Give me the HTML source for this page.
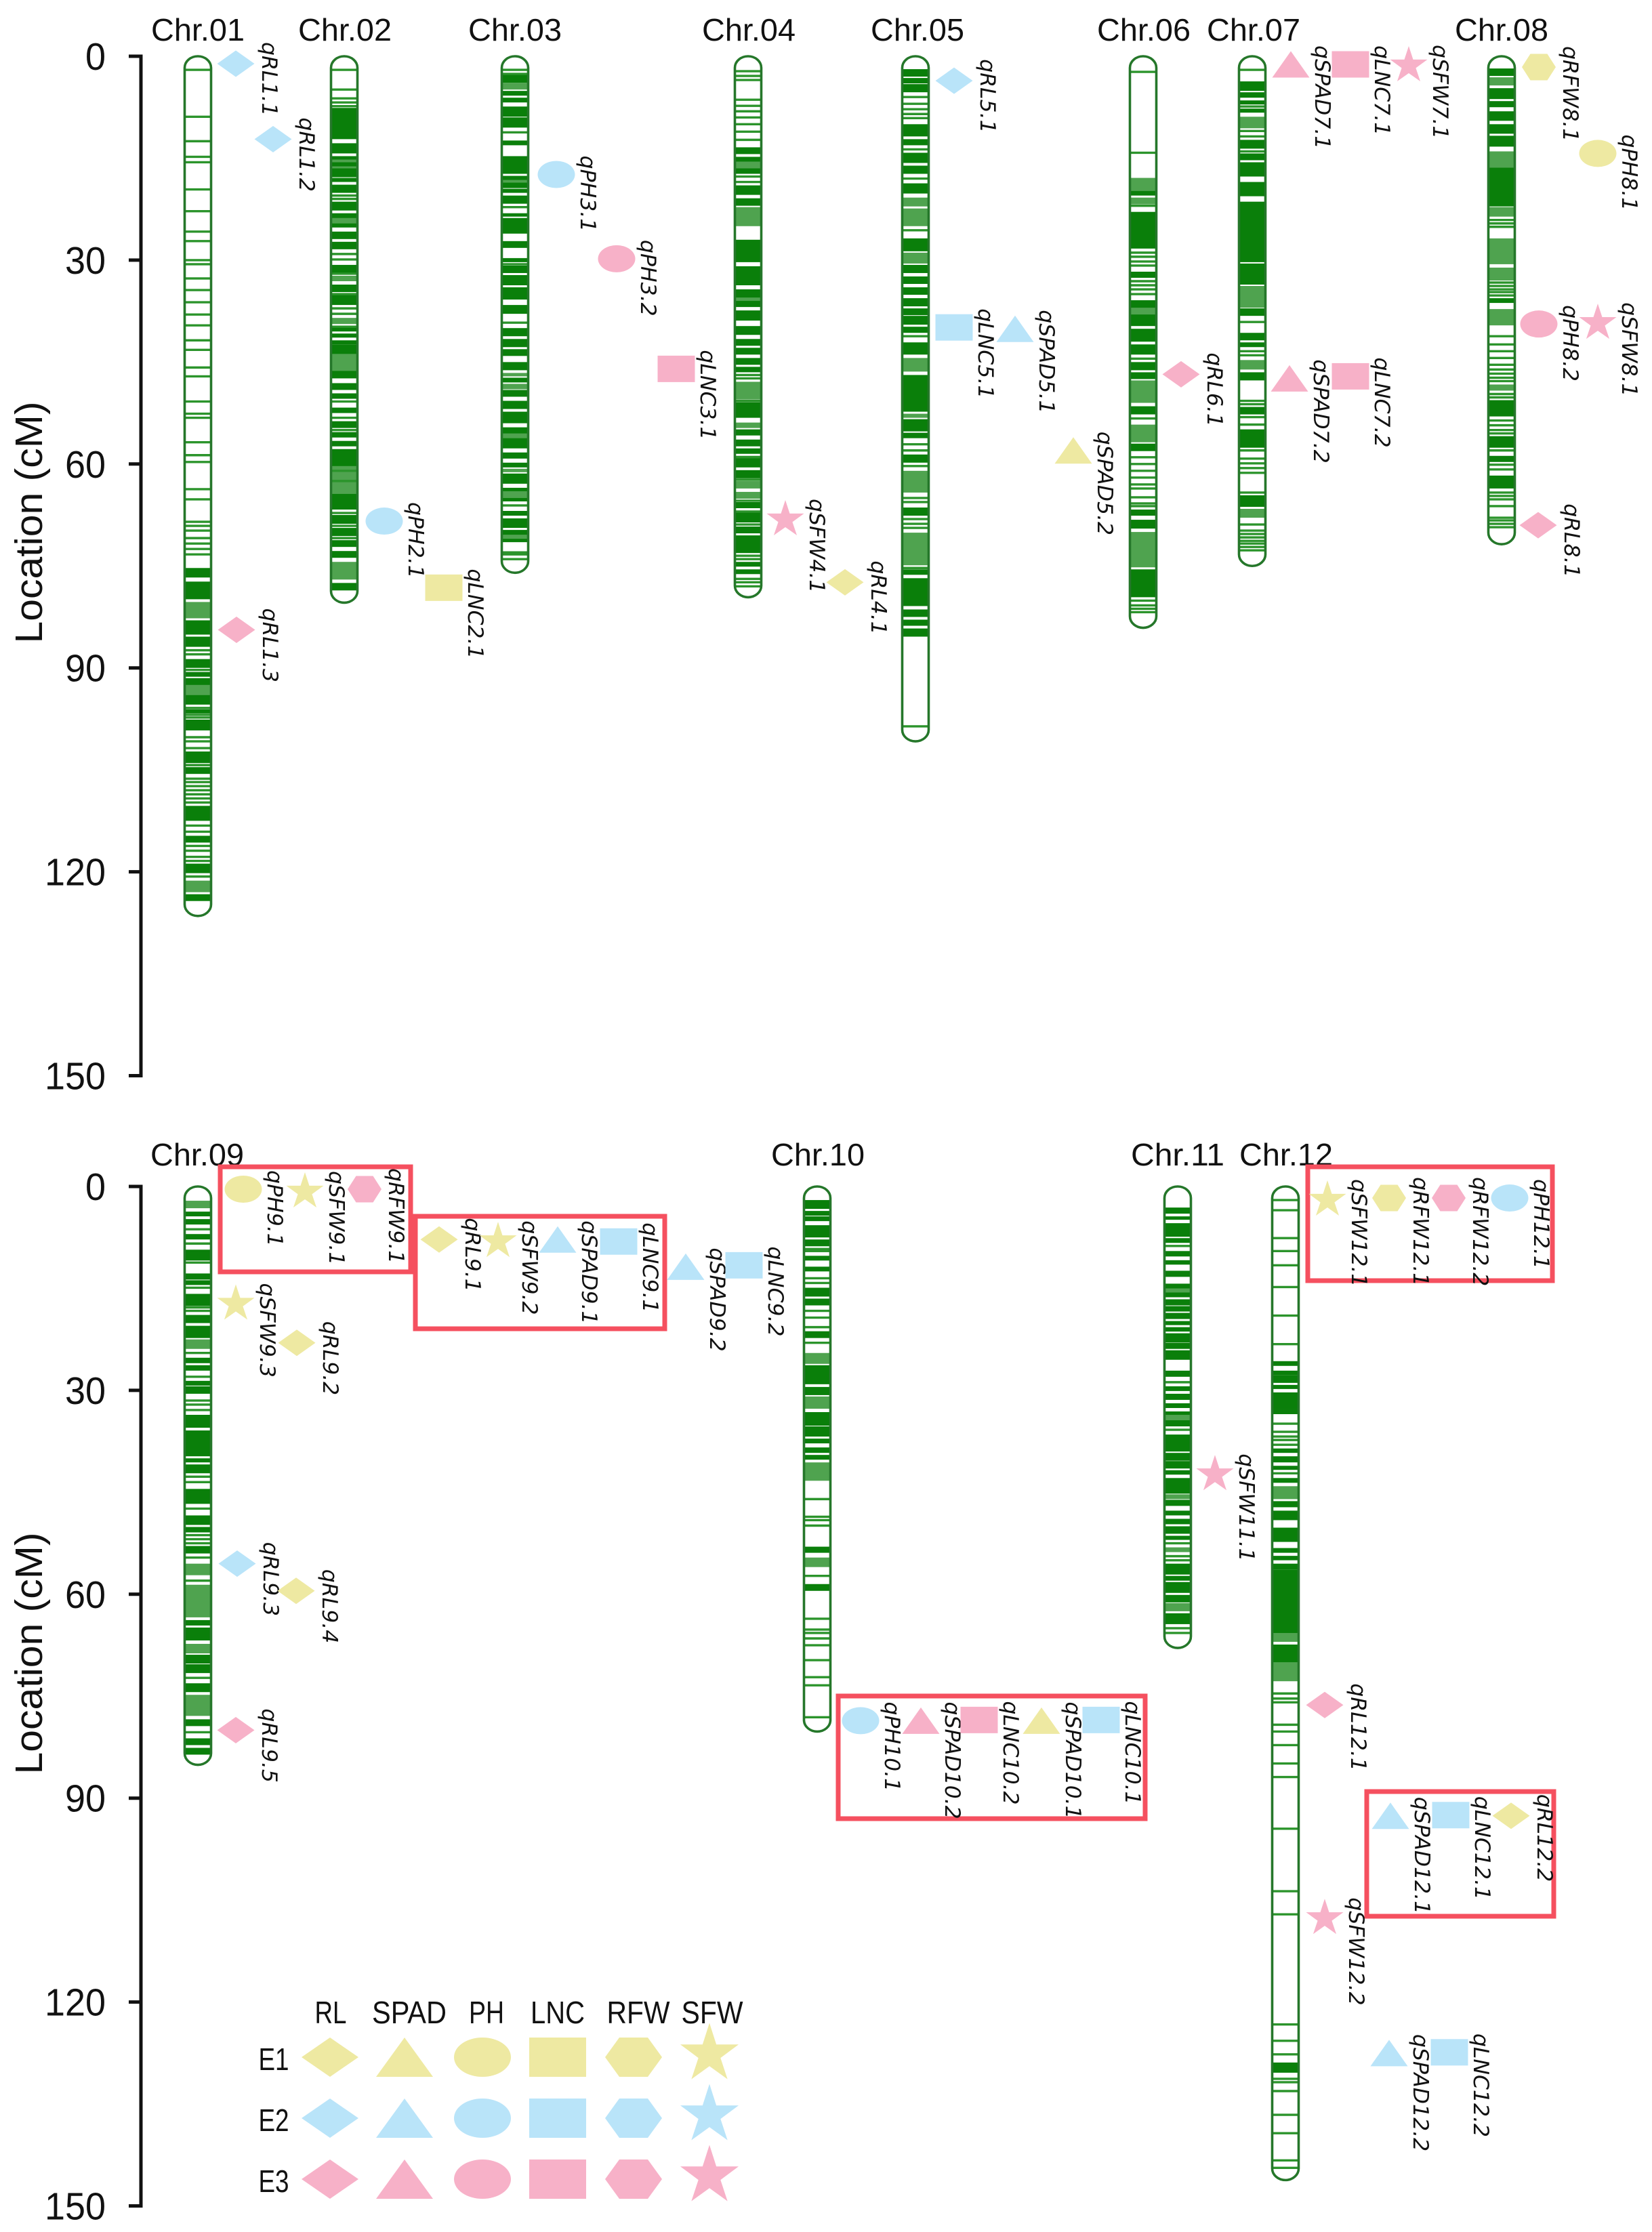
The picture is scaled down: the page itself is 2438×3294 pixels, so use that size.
<!DOCTYPE html>
<html lang="en">
<head>
<meta charset="utf-8">
<title>QTL positions on rice chromosomes</title>
<style>
html,body{margin:0;padding:0;background:#fff}
svg{display:block}
</style>
</head>
<body>
<svg id="chart" xmlns="http://www.w3.org/2000/svg" width="2438" height="3294" viewBox="0 0 2438 3294"></svg>
<script>
// ---------- chart data (cM) ----------
const tickValues = [0, 30, 60, 90, 120, 150];
const chrNames = ['Chr.01','Chr.02','Chr.03','Chr.04','Chr.05','Chr.06','Chr.07','Chr.08','Chr.09','Chr.10','Chr.11','Chr.12'];
const chrLengths = [126.5, 80.4, 76, 79.6, 100.8, 84.1, 75, 71.8, 85.1, 80.2, 67.9, 146.2];

const chr01Markers = [2,8.9,12.5,14.8,15.6,19.6,22.8,25.8,27.2,30,30.6,32.7,34.4,36.2,38,39.6,41.8,43.2,45.8,47.1,50.8,52.6,53.2,56.8,58.7,59.7,63.7,65.2,68.5,69.1,69.8,70.9,71.7,72.5,73.3,87.4,88,90.3,95.9,96.9,97.3,100.2,100.8,101.8,104.3,106.3,106.8,107.4,108,108.6,109.2,109.8,113.2,114.1,116.2,116.9,117.8,118.4,120.7];
const chr01Bands = [[75.4,76.6],[77.4,79.8],[83.1,85],[85.5,86.8],[88.8,89.9],[90.7,91.2],[91.6,95.3],[96.2,96.6],[97.7,99.1],[102.4,103.9],[104.7,105.5],[110.4,112.4],[114.8,115.6],[118.9,120.1],[123.4,124.2]];
const chr01Pale = [[80.3,82.7],[92.5,94],[121.3,123]];

const chr02Markers = [2,4.9,6.2,6.8,7.35,20.5,21,29.1,29.9,32,35,37.1,37.9,39.8,50.8,53.2,55,61,62.5,67.2,69.1,70.9];
const chr02Bands = [[7.7,12.1],[12.9,14.2],[14.8,17.7],[18,18.4],[19,20],[21.5,22.6],[23.2,25.1],[25.9,26.8],[27.4,28.3],[30.8,31.8],[33.7,34.6],[35.2,36.5],[40,40.4],[40.9,41.3],[41.9,42.3],[42.5,47.3],[48.2,49],[49.7,50.3],[51.8,52.4],[53.8,54.6],[55.4,56],[56.7,57.3],[57.9,60.3],[64.4,66.6],[67.6,68.7],[69.5,70.5],[71.3,72.1],[72.9,73.7],[77.6,78.5]];
const chr02Pale = [[15.2,15.6],[16.2,16.5],[23.8,24.6],[32.3,33.1],[38.5,39.4],[43.8,46.3],[60.3,64.4],[74.4,77]];

const chr03Markers = [2,2.6,11.2,22.2,30.6,39.2,66.1,73,73.3,74];
const chr03Bands = [[2.8,3.8],[5.2,5.7],[6.2,6.7],[7.5,8.8],[9.1,10.4],[12.5,13],[14.8,17.2],[17.7,19.3],[19.6,20],[20.6,21.6],[23.2,23.5],[23.9,26],[27.3,28.1],[29.8,30.2],[30.9,31.8],[32.3,33.6],[34.1,35.7],[36.7,37.8],[40.1,41.1],[41.7,42.7],[43.2,44],[45.1,46.1],[47.4,47.9],[49.2,50],[50.8,51.8],[52.4,53.9],[54.7,57.6],[58.4,59.1],[59.9,60.4],[61.5,62.8],[63.6,65.4],[67,67.5],[68.1,69.3],[69.8,71.4]];
const chr03Pale = [[3.9,4.9],[18.2,18.6],[46.6,47.1],[48.2,49],[55.5,56.2],[60.7,61.2],[64,65],[70.4,71]];

const chr04Markers = [2.2,2.9,3.5,6.4,7.3,8.1,9,10,11.1,12.3,17.7,18.5,76.9,77.4,73.5,74,46.9,47.4,50.7,59,62.3,65.4,67,68.9,78];
const chr04Bands = [[13.5,14.3],[14.9,17.2],[19.1,20.3],[21,21.9],[27.1,30.2],[31,33.6],[34.4,36.8],[37.5,38.8],[39.8,40.9],[41.7,42.5],[43,43.8],[44.5,45.3],[45.8,46.4],[51,53.1],[55,55.7],[56.5,57.3],[57.8,58.4],[58.9,60.4],[61,62],[65.7,66.4],[67.2,68.5],[69.3,70.1],[70.6,73],[74.5,75],[75.6,76.1]];
const chr04Pale = [[15.5,16.5],[22.2,25],[35.5,36],[47.9,50.5],[53.9,54.7],[62.5,63.6],[64.1,65.1]];

const chr05Markers = [6,7,7.8,8.5,9.1,13.7,18,25.6,41.2,57.1,58,60.3,65,65.6,68.1,68.8,69.4,75.3,98.6];
const chr05Bands = [[2,2.9],[3.3,3.9],[4.2,5.2],[10.1,11.7],[12.3,13],[14.3,15.6],[16.2,17.2],[18.8,20.1],[26.9,28.6],[30.8,31.8],[32.5,33.4],[34.1,35],[35.7,36.7],[37.2,38],[38.3,39.4],[39.9,40.6],[42.2,43.8],[47,52.2],[53.5,55.1],[55.5,56.1],[58.7,59.7],[66.5,67.5],[75.6,76.2],[76.9,80.8],[81.5,82.4],[83,83.7],[84.3,85.3]];
const chr05Pale = [[20.8,22.1],[22.4,25],[28.9,30.5],[44.4,46.4],[52.6,53.2],[61,64.2],[70.1,74.9]];

const chr06Markers = [2.3,14.2,22,28.9,29.5,30.2,30.8,33.1,33.7,34.3,35,44.5,53.3,59,60,61,62,63,63.6,64.9,65.8,66.2,80.1,80.8,81.3,81.8];
const chr06Bands = [[19.9,20.4],[23,28.2],[31.8,32.5],[36,39.6],[40.2,41.9],[42.5,43.8],[45.1,46.1],[46.6,47.4],[51.6,52.6],[57.1,58],[66.8,67.5],[68.3,69.4],[75.6,79.5]];
const chr06Pale = [[17.9,19.8],[20.8,21.8],[37,38],[47.7,51],[54.2,56.8],[70,75.2]];

const chr07Markers = [2,7.4,11,11.8,14,39.1,43.4,44,50.7,51.2,53.1,54.2,58,59.2,59.9,60.6,61.3,64.2,68.9,69.8,70.3,70.8,71.3,71.7,72.2,72.7];
const chr07Bands = [[3.8,5],[5.4,6],[6.6,7],[7.8,8.2],[12.4,13.5],[14.4,15.2],[15.7,17.6],[18.6,20.5],[21.5,30.2],[30.6,33.5],[37.2,38.1],[40.8,41.7],[42.2,42.7],[46.6,47.6],[51.7,52.6],[55,57.5],[64.7,66.2]];
const chr07Pale = [[8.9,10.6],[33.8,37],[44.7,46.1],[66.6,67.9]];

const chr08Markers = [24.1,24.6,25.1,33.3,33.8,34.3,34.7,35.2,41.2,42.4,43.4,44.4,45.4,46.1,46.7,47.3,47.8,49.7,50.2,53.6,54.3,55,55.5,58,60.1,60.8,64.2,64.7,65.2,66.2,67.9,68.3,68.8,69.3];
const chr08Bands = [[1.9,2.8],[4.8,6.2],[6.7,7.4],[8.2,9.4],[10.1,11.3],[11.8,13.2],[16.4,22],[35.7,36.2],[50.7,52.9],[56,57.5],[58.9,59.6],[61.8,63.5]];
const chr08Pale = [[3.1,4.3],[14,16.4],[22.2,23.6],[26.8,30.6],[31.1,33],[37.2,39.6],[48.3,49.2]];

const chr09Markers = [6.3,8.4,11.2,14.9,17.8,18.3,24.5,28,31.5,32.1,32.9,42.7,43.5,47.4,51.3,51.9,52.5,54.6,58,72.3,80.3];
const chr09Bands = [[3.8,4.3],[4.9,5.5],[7.1,7.7],[9.4,10.8],[12.9,13.6],[13.9,14.4],[15.9,17.5],[19,20],[20.6,22.2],[25.3,25.9],[26.4,27],[28.7,29.2],[29.5,30.4],[33.7,35.4],[36,39.6],[40.1,40.5],[41,42.1],[44.6,46.6],[48.5,49.7],[50.2,50.8],[53,53.9],[63.9,64.5],[65,66.7],[69,70.1],[70.4,71.5],[73.2,74.3],[78.5,79.3],[81.3,82.1],[82.7,83.5]];
const chr09Pale = [[2.1,3.2],[22.5,23.9],[55.5,57.2],[58.6,63.4],[67.3,68.7],[74.8,77.9]];

const chr10Markers = [9.2,9.5,13.5,14.2,18.3,19.3,20.7,23,46,48.6,49.1,49.9,57.3,63.6,65.2,65.7,66.5,67.5,69.7,72.2,73.4,78.1];
const chr10Bands = [[2.1,3.2],[3.7,4.2],[4.5,5],[5.8,7.4],[7.9,8.7],[10.3,10.8],[11.9,12.4],[15,16.1],[16.6,17.4],[21.4,22.2],[26.4,29],[29.6,30.6],[33.3,35.1],[35.4,36.7],[37.2,37.7],[38.5,39.1],[39.6,40.1],[53.1,53.8],[58.6,59.4]];
const chr10Pale = [[24.5,26.1],[30.9,32.7],[40.6,43.3],[54.6,56]];

const chr11Markers = [8.75,28.8,35.8,52.5,65,65.7,54.4,55];
const chr11Bands = [[3.2,3.9],[4.5,4.8],[5.5,7.3],[7.7,8.2],[9.6,10.2],[10.95,11.4],[12.5,13.2],[14.4,16.2],[16.7,17.4],[17.7,18.3],[18.7,19.4],[19.9,20.3],[20.8,21.25],[21.7,22.85],[23.1,23.8],[24.2,25.4],[27.2,27.9],[29.5,30],[30.6,31.3],[32,32.5],[33.2,35.2],[36.6,38.9],[39.3,40.25],[40.5,41.4],[41.85,42.3],[43,45.1],[46.2,46.9],[47.8,48.3],[49,49.6],[50.1,51],[51.5,51.9],[55.6,57],[57.4,57.9],[58.3,59.7],[60.2,61.1],[62.9,64.3]];
const chr11Pale = [[15,15.6],[33.6,34.4],[45.3,46],[53.1,53.8],[61.3,62.5]];

const chr12Markers = [2,3.5,7.6,9.5,11.6,14.8,19,23.2,34.9,36.1,36.8,37.3,38,42.2,74.6,75.35,75.9,79.2,80.2,82.2,84.9,86.9,94.5,103.7,107.1,123.3,125.7,127.7,131.3,131.8,133.1,136.6,139.3,143.3,144.4];
const chr12Bands = [[25.8,26.3],[27.2,27.7],[27.9,28.8],[29.3,29.7],[30.4,32.7],[32.9,33.4],[38.65,39.1],[39.8,40.5],[41.2,41.6],[43,43.5],[46.4,47.1],[47.8,49],[50.3,52.2],[53.3,53.8],[54.45,54.9],[55.6,56.3],[56.5,65.7],[67.5,70],[129,130.3]];
const chr12Pale = [[44.1,46],[65.7,67],[70,72.8]];

const chrMarkers = [chr01Markers,chr02Markers,chr03Markers,chr04Markers,chr05Markers,chr06Markers,chr07Markers,chr08Markers,chr09Markers,chr10Markers,chr11Markers,chr12Markers];
const chrBands = [chr01Bands,chr02Bands,chr03Bands,chr04Bands,chr05Bands,chr06Bands,chr07Bands,chr08Bands,chr09Bands,chr10Bands,chr11Bands,chr12Bands];
const chrPale = [chr01Pale,chr02Pale,chr03Pale,chr04Pale,chr05Pale,chr06Pale,chr07Pale,chr08Pale,chr09Pale,chr10Pale,chr11Pale,chr12Pale];

const qtlNames = ['qRL1.1','qRL1.2','qRL1.3','qPH2.1','qLNC2.1','qPH3.1','qPH3.2','qLNC3.1','qSFW4.1','qRL4.1','qRL5.1','qLNC5.1','qSPAD5.1','qSPAD5.2','qRL6.1','qSPAD7.1','qLNC7.1','qSFW7.1','qSPAD7.2','qLNC7.2','qRFW8.1','qPH8.1','qPH8.2','qSFW8.1','qRL8.1','qPH9.1','qSFW9.1','qRFW9.1','qRL9.1','qSFW9.2','qSPAD9.1','qLNC9.1','qSPAD9.2','qLNC9.2','qSFW9.3','qRL9.2','qRL9.3','qRL9.4','qRL9.5','qPH10.1','qSPAD10.2','qLNC10.2','qSPAD10.1','qLNC10.1','qSFW11.1','qSFW12.1','qRFW12.1','qRFW12.2','qPH12.1','qRL12.1','qSPAD12.1','qLNC12.1','qRL12.2','qSFW12.2','qSPAD12.2','qLNC12.2'];
const qtlPositions = [1.1,12.2,84.4,68.4,78.2,17.4,29.8,46,67.9,77.4,3.6,39.9,40.1,58,46.8,1.2,1.2,1.1,47.4,47.1,1.6,14.3,39.4,39,69,0.4,0.5,0.4,7.8,7.8,7.8,8.1,11.8,11.6,17,23,55.5,59.5,80,78.6,78.6,78.5,78.6,78.5,42.1,1.7,1.7,1.7,1.7,76.3,92.6,92.5,92.6,107.4,127.5,127.4];
const qtlEnvironments = ['E2','E2','E3','E2','E1','E2','E3','E3','E3','E1','E2','E2','E2','E1','E3','E3','E3','E3','E3','E3','E1','E1','E3','E3','E3','E1','E1','E3','E1','E1','E2','E2','E2','E2','E1','E1','E2','E1','E3','E2','E3','E3','E1','E2','E3','E1','E1','E3','E2','E3','E2','E2','E1','E3','E2','E2'];

const traitNames = ['RL','SPAD','PH','LNC','RFW','SFW'];
const envNames = ['E1','E2','E3'];

// ---------- layout (not data) ----------
const chrCenters = [292,508,760,1104,1351,1687,1848,2216,292,1206,1738,1897];
const chrLabelCenters = [292,509,760,1105,1354,1688,1850,2216,291,1207,1738,1898];
const qtlColumns = [348,403,349,567,655,821,910,998,1159,1247,1408,1408,1498,1584,1743,1905,1993,2079,1903,1993,2271,2358,2271,2358,2270,359,450,538,648,735,823,913,1012,1098,348,438,350,437,348,1270,1359,1445,1537,1625,1793,1959,2050,2138,2228,1955,2052,2141,2230,1955,2050,2139];
const envColors = {E1:'#eee9a2',E2:'#b9e4f9',E3:'#f7b1c8'};
const traitShapes = {RL:'diamond',SPAD:'triangle',PH:'ellipse',LNC:'square',RFW:'hexagon',SFW:'star'};
const legendCenters = [487,597,712,823,935,1047];
const legendHeaderCenters = [488,604,718,823,942,1051];
const legendHeaderWidths = [47,110,52,80,93,91];
const legendRowCenters = [3036,3126,3216];
const highlightBoxes = [[325,1722,606,1877],[613,1795,981,1961],[1237,2503,1690,2684],[1930,1722,2291,1890],[2017,2644,2293,2828]];

const CHR_W = 39, AXIS_X = 208, PX_PER_CM = 10.03;
const TOP_ZERO = 83, BOTTOM_ZERO = 1751;
const yTop = v => TOP_ZERO + v * PX_PER_CM;
const yBottom = v => BOTTOM_ZERO + v * PX_PER_CM;
const yFor = i => (i < 8 ? yTop : yBottom);

const svg = document.getElementById('chart');
const NS = 'http://www.w3.org/2000/svg';
function make(tag, attrs, parent) {
  const el = document.createElementNS(NS, tag);
  for (const k in attrs) el.setAttribute(k, attrs[k]);
  (parent || svg).appendChild(el);
  return el;
}

function drawShape(shape, cx, cy, w, h, fill, parent) {
  let el;
  if (shape === 'ellipse') {
    el = make('ellipse', {cx: cx, cy: cy, rx: w / 2, ry: h / 2, fill: fill}, parent);
  } else if (shape === 'square') {
    el = make('rect', {x: cx - w / 2, y: cy - h / 2, width: w, height: h, fill: fill}, parent);
  } else {
    let pts = [];
    if (shape === 'diamond') pts = [[0,-.5],[.5,0],[0,.5],[-.5,0]];
    if (shape === 'triangle') pts = [[0,-.5],[.5,.5],[-.5,.5]];
    if (shape === 'hexagon') pts = [[-.25,-.5],[.25,-.5],[.5,0],[.25,.5],[-.25,.5],[-.5,0]];
    if (shape === 'star') pts = [[0,-.5],[.118,-.118],[.5,-.118],[.19,.122],[.31,.5],[0,.268],[-.31,.5],[-.19,.122],[-.5,-.118],[-.118,-.118]];
    el = make('polygon', {points: pts.map(p => (cx + p[0] * w) + ',' + (cy + p[1] * h)).join(' '), fill: fill}, parent);
  }
  return el;
}

function drawAxis(scale, panel, titleY) {
  const g = make('g', {});
  
  
  const line = make('line', {x1: AXIS_X, x2: AXIS_X, y1: scale(0) - 2.5, y2: scale(150) + 2.5, stroke: '#111', 'stroke-width': 5}, g);
  
  
  tickValues.forEach(v => {
    const t = make('line', {x1: 190, x2: AXIS_X, y1: scale(v), y2: scale(v), stroke: '#111', 'stroke-width': 5}, g);
    
    
    const lab = make('text', {x: 156, y: scale(v) + 20, 'text-anchor': 'end', 'font-family': '"Liberation Sans", sans-serif', 'font-size': 57, fill: '#111', textLength: String(v).length * 30, lengthAdjust: 'spacingAndGlyphs'}, g);
    lab.textContent = String(v);
    
    
  });
  const title = make('text', {transform: 'translate(62,' + titleY + ') rotate(-90)', 'text-anchor': 'middle', 'font-family': '"Liberation Sans", sans-serif', 'font-size': 57, fill: '#111', textLength: 357, lengthAdjust: 'spacingAndGlyphs'}, g);
  title.textContent = 'Location (cM)';
  
  
}

function drawChromosome(i) {
  const scale = yFor(i), cx = chrCenters[i], left = cx - CHR_W / 2;
  const g = make('g', {});
  
  
  const top = scale(0), bottom = scale(chrLengths[i]);
  const bg = make('rect', {x: left, y: top, width: CHR_W, height: bottom - top, rx: CHR_W / 2, ry: 17, fill: '#fff'}, g);
  
  
  chrBands[i].forEach(b => {
    const r = make('rect', {x: left, y: scale(b[0]) - 1, width: CHR_W, height: scale(b[1]) - scale(b[0]) + 2, fill: '#0a7f0a'}, g);
    
    
  });
  chrPale[i].forEach(b => {
    const r = make('rect', {x: left, y: scale(b[0]), width: CHR_W, height: scale(b[1]) - scale(b[0]), fill: '#4fa34f'}, g);
    
    
  });
  chrMarkers[i].forEach(v => {
    const l = make('line', {x1: left, x2: left + CHR_W, y1: scale(v), y2: scale(v), stroke: '#2b942b', 'stroke-width': 3.4}, g);
    
    
  });
  const outline = make('rect', {x: left, y: top, width: CHR_W, height: bottom - top, rx: CHR_W / 2, ry: 17, fill: 'none', stroke: '#25772a', 'stroke-width': 3.6}, g);
  
  
  const lab = make('text', {x: chrLabelCenters[i], y: i < 8 ? 60 : 1720, 'text-anchor': 'middle', 'font-family': '"Liberation Sans", sans-serif', 'font-size': 46, fill: '#111', textLength: 138, lengthAdjust: 'spacingAndGlyphs'}, g);
  lab.textContent = chrNames[i];
  
  
}

function drawQtl(k) {
  const name = qtlNames[k];
  const m = name.match(/^q([A-Z]+)(\d+)\./);
  const trait = m[1], chrIndex = parseInt(m[2], 10) - 1;
  const shape = traitShapes[trait];
  const cx = qtlColumns[k], cy = yFor(chrIndex)(qtlPositions[k]);
  const g = make('g', {});
  
  
  const h = shape === 'star' ? 52 : (shape === 'ellipse' ? 40 : 39);
  const w = shape === 'hexagon' ? 50 : 55;
  const sym = drawShape(shape, cx, cy, w, h, envColors[qtlEnvironments[k]], g);
  
  
  const dx = shape === 'diamond' ? 39 : 36;
  const dy = shape === 'diamond' ? -32 : (shape === 'hexagon' ? -31 : -28);
  const t = make('text', {transform: 'translate(' + (cx + dx) + ',' + (cy + dy) + ') rotate(90)', 'font-family': '"DejaVu Sans", sans-serif', 'font-style': 'italic', 'font-size': 31.5, fill: '#111'}, g);
  t.textContent = name;
  
  
}

function drawBoxes() {
  highlightBoxes.forEach(b => {
    const r = make('rect', {x: b[0], y: b[1], width: b[2] - b[0], height: b[3] - b[1], fill: 'none', stroke: '#f5505f', 'stroke-width': 7});
    
    
  });
}

function drawLegend() {
  const g = make('g', {});
  
  
  traitNames.forEach((tn, c) => {
    const t = make('text', {x: legendHeaderCenters[c], y: 2986, 'text-anchor': 'middle', 'font-family': '"Liberation Sans", sans-serif', 'font-size': 46, fill: '#111', textLength: legendHeaderWidths[c], lengthAdjust: 'spacingAndGlyphs'}, g);
    t.textContent = tn;
    
    
  });
  envNames.forEach((en, r) => {
    const t = make('text', {x: 404, y: legendRowCenters[r] + 19, 'text-anchor': 'middle', 'font-family': '"Liberation Sans", sans-serif', 'font-size': 46, fill: '#111', textLength: 45, lengthAdjust: 'spacingAndGlyphs'}, g);
    t.textContent = en;
    
    
    traitNames.forEach((tn, c) => {
      const shape = traitShapes[tn];
      const isStar = shape === 'star';
      const s = drawShape(shape, legendCenters[c], legendRowCenters[r] + (isStar ? -9 : 0), isStar ? 86 : 84, isStar ? 83 : 58, envColors[en], g);
      
      
    });
  });
}

drawAxis(yTop, 'top-panel', 771);
drawAxis(yBottom, 'bottom-panel', 2440);
chrNames.forEach((_, i) => drawChromosome(i));
drawBoxes();
qtlNames.forEach((_, k) => drawQtl(k));
drawLegend();
</script>
</body>
</html>
